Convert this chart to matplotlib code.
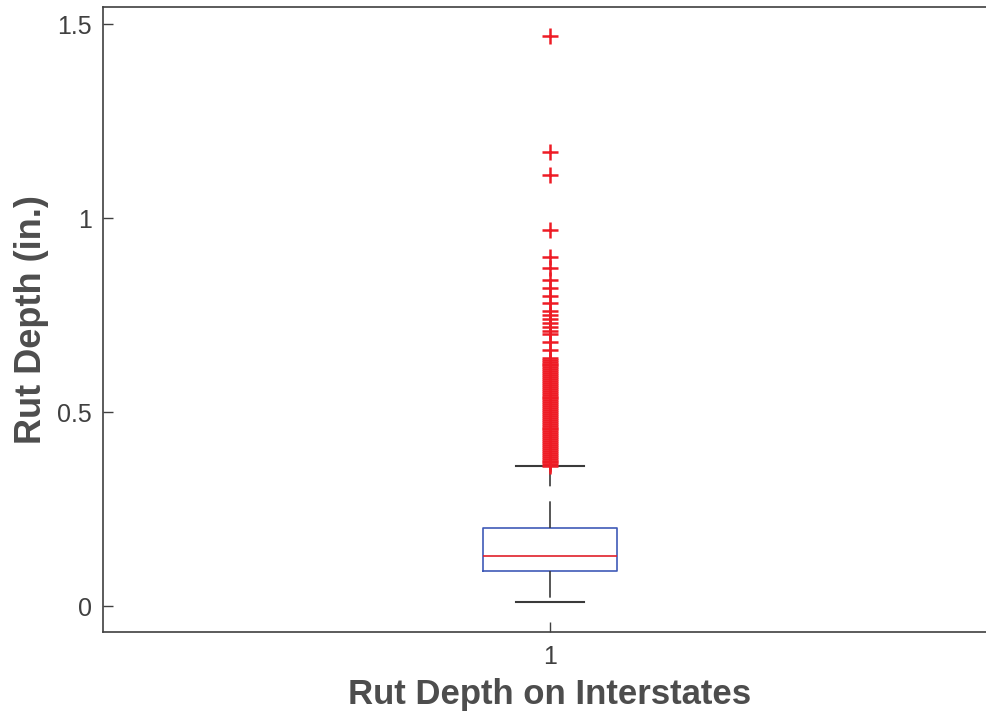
import matplotlib
matplotlib.use("Agg")
import matplotlib.pyplot as plt

# box statistics (inches)
q1 = 0.09
median = 0.13
q3 = 0.20
whisker_low = 0.01
whisker_high = 0.36

# outliers above the upper whisker
outliers = [1.47, 1.17, 1.11, 0.97, 0.90, 0.87, 0.84, 0.82, 0.80, 0.78,
            0.76, 0.75, 0.74, 0.73, 0.72, 0.71, 0.70, 0.68, 0.66,
            0.640, 0.635, 0.630, 0.625, 0.620, 0.615, 0.610, 0.605, 0.600,
            0.595, 0.590, 0.585, 0.580, 0.575, 0.570, 0.565, 0.560, 0.555,
            0.550, 0.545, 0.540, 0.535, 0.530, 0.525, 0.520, 0.515, 0.510,
            0.505, 0.500, 0.495, 0.490, 0.485, 0.480, 0.475, 0.470, 0.465,
            0.460, 0.455, 0.450, 0.445, 0.440, 0.435, 0.430, 0.425, 0.420,
            0.415, 0.410, 0.405, 0.400, 0.395, 0.390, 0.385, 0.380, 0.375,
            0.370, 0.365, 0.360]

tick_labels = ["1"]
x_label = "Rut Depth on Interstates"
y_label = "Rut Depth (in.)"

plt.rcParams['font.family'] = ['Liberation Sans', 'DejaVu Sans']

fig = plt.figure(figsize=(9.87, 7.13), dpi=100)
ax = fig.add_axes([0.1044, 0.1136, 0.9057, 0.8766])

stats = [dict(med=median, q1=q1, q3=q3, whislo=whisker_low, whishi=whisker_high,
              fliers=outliers, label=tick_labels[0])]

ax.bxp(stats, positions=[1], widths=0.15, capwidths=0.075,
       boxprops=dict(color="#3f5ab8", linewidth=1.2),
       medianprops=dict(color="#e0202a", linewidth=1.2),
       whiskerprops=dict(color="#3a3a3a", linewidth=1.2, linestyle=(0, (16, 9))),
       capprops=dict(color="#3a3a3a", linewidth=1.5),
       flierprops=dict(marker="+", markeredgecolor="#ee1c25", markersize=12,
                       markeredgewidth=1.8, linestyle="none"))

ax.set_xlim(0.5, 1.5)
ax.set_ylim(-0.067, 1.544)
ax.set_yticks([0, 0.5, 1, 1.5])
ax.set_yticklabels(["0", "0.5", "1", "1.5"])

ax.tick_params(direction="in", length=7, width=1, colors="#404040",
               labelsize=18)
ax.tick_params(axis="x", pad=9)
ax.tick_params(axis="y", pad=8)
ax.spines["right"].set_visible(False)
for side in ["left", "bottom", "top"]:
    ax.spines[side].set_color("#404040")
    ax.spines[side].set_linewidth(1.2)

ax.set_xlabel(x_label, fontsize=25, fontweight="bold", color="#4d4d4d", labelpad=7)
ax.set_ylabel(y_label, fontsize=26, fontweight="bold", color="#4d4d4d", labelpad=6)

fig.savefig("out.png", dpi=100)
